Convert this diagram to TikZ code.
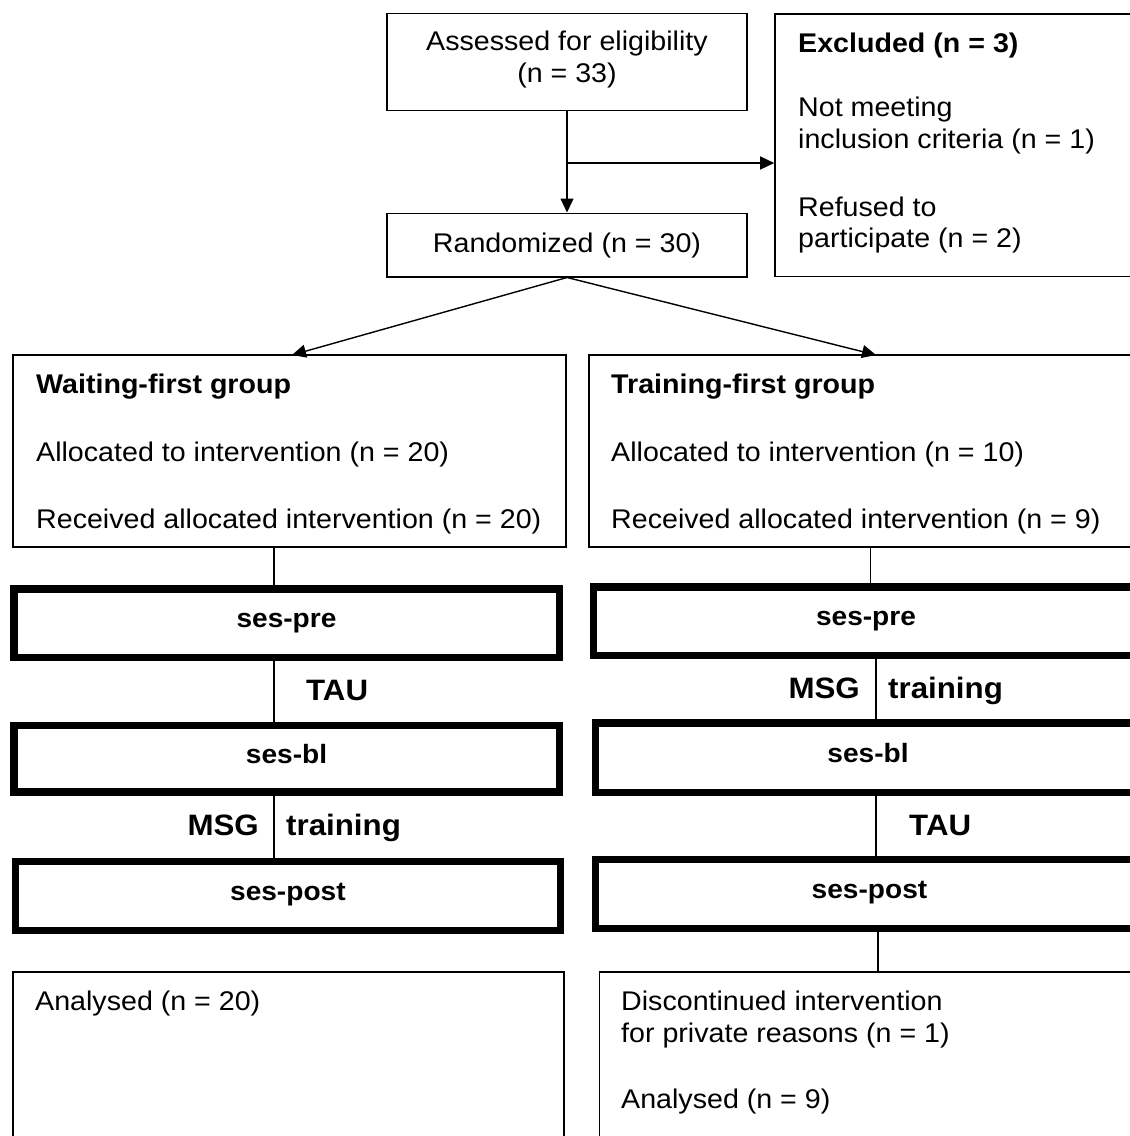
\documentclass[tikz,border=0pt]{standalone}
\usepackage{fontspec}
\setmainfont{Liberation Sans}[FakeStretch=1.06]
\usetikzlibrary{arrows.meta}
\begin{document}
\begin{tikzpicture}[x=1pt,y=-1pt,
  tbox/.style={draw, line width=1.6pt, inner sep=0pt, rectangle},
  heavybox/.style={draw, line width=7.5pt, inner sep=0pt, rectangle,
    text height=14.5pt, text depth=5.5pt,
    font=\fontsize{26.5}{30}\selectfont\bfseries},
  txt/.style={inner sep=0pt, anchor=base west, font=\fontsize{27}{32}\selectfont},
  txtb/.style={txt, font=\fontsize{27}{32}\selectfont\bfseries},
  lab/.style={inner sep=0pt, anchor=base west, font=\fontsize{29.5}{34}\selectfont\bfseries},
  ln/.style={draw, line width=1.4pt},
  arr/.style={ln, -{Triangle[length=14pt,width=13pt]}}
]
\useasboundingbox (0,0) rectangle (1130,1136);
\clip (0,0) rectangle (1130,1136);

% thin boxes
\node[tbox, minimum width=360pt, minimum height=97pt] (assess) at (567,62) {};
\node[tbox, minimum width=365pt, minimum height=262.7pt] (excl) at (957.5,145.3) {};
\node[tbox, minimum width=360pt, minimum height=63.4pt] (rand) at (567,245) {};
\node[tbox, minimum width=553pt, minimum height=191.7pt] (wait) at (289.5,450.85) {};
\node[tbox, minimum width=561.2pt, minimum height=191.7pt] (train) at (869.4,450.85) {};
\node[tbox, minimum width=551pt, minimum height=188pt] (lana) at (288.5,1066) {};
\node[tbox, minimum width=550.4pt, minimum height=188pt] (rdisc) at (874.8,1066) {};

% heavy boxes
\node[heavybox, minimum width=545.5pt, minimum height=68.5pt] (lpre) at (286.5,623) {ses-pre};
\node[heavybox, minimum width=545.5pt, minimum height=66.5pt] (lbl) at (286.5,758.75) {ses-bl};
\node[heavybox, minimum width=545.3pt, minimum height=69pt] (lpost) at (287.9,896) {ses-post};
\node[heavybox, minimum width=545.5pt, minimum height=68.5pt] (rpre) at (866,621.25) {ses-pre};
\node[heavybox, minimum width=545pt, minimum height=69.3pt] (rbl) at (868,757.7) {ses-bl};
\node[heavybox, minimum width=548pt, minimum height=68.75pt] (rpost) at (869.5,894.1) {ses-post};

% texts
\node[txt, anchor=base] (t1) at (567,50) {Assessed for eligibility};
\node[txt, anchor=base] (t2) at (567,82) {(n = 33)};
\node[txtb] (t3) at (798,52) {Excluded (n = 3)};
\node[txt] (t4) at (798,116.5) {Not meeting};
\node[txt] (t5) at (798,148.5) {inclusion criteria (n = 1)};
\node[txt] (t6) at (798,216) {Refused to};
\node[txt] (t7) at (798,247) {participate (n = 2)};
\node[txt, anchor=base] (t8) at (567,252) {Randomized (n = 30)};

\node[txtb] (w1) at (36,393.5) {Waiting-first group};
\node[txt] (w2) at (36,461.7) {Allocated to intervention (n = 20)};
\node[txt] (w3) at (36,528.3) {Received allocated intervention (n = 20)};
\node[txtb] (r1) at (611,393.5) {Training-first group};
\node[txt] (r2) at (611,461.7) {Allocated to intervention (n = 10)};
\node[txt] (r3) at (611,528.3) {Received allocated intervention (n = 9)};

\node[lab] (ltau) at (306,700) {TAU};
\node[lab, anchor=base east] (lmsg) at (259,835) {MSG};
\node[lab] (ltr) at (286,835) {training};
\node[lab, anchor=base east] (rmsg) at (860,698) {MSG};
\node[lab] (rtr) at (888,698) {training};
\node[lab] (rtau) at (909,835) {TAU};

\node[txt] (a1) at (35,1010) {Analysed (n = 20)};
\node[txt] (d1) at (621,1010) {Discontinued intervention};
\node[txt] (d2) at (621,1042) {for private reasons (n = 1)};
\node[txt] (d3) at (621,1108) {Analysed (n = 9)};

% connectors
\coordinate (split) at (567,163);
\coordinate (wtip) at (292,355);
\coordinate (ttip) at (876,355);
\coordinate (lx) at (274,0);
\coordinate (rxa) at (870.6,0);
\coordinate (rxb) at (876,0);
\coordinate (rxc) at (878,0);

\draw[arr] (assess.south) -- (rand.north);
\draw[arr] (split) -- (split -| excl.west);
\draw[arr] (rand.south) -- (wtip);
\draw[arr] (rand.south) -- (ttip);

\draw[ln] (wait.south -| lx) -- (lpre.north -| lx);
\draw[ln] (lpre.south -| lx) -- (lbl.north -| lx);
\draw[ln] (lbl.south -| lx) -- (lpost.north -| lx);

\draw[ln] (train.south -| rxa) -- (rpre.north -| rxa);
\draw[ln] (rpre.south -| rxb) -- (rbl.north -| rxb);
\draw[ln] (rbl.south -| rxb) -- (rpost.north -| rxb);
\draw[ln] (rpost.south -| rxc) -- (rdisc.north -| rxc);
\end{tikzpicture}
\end{document}
